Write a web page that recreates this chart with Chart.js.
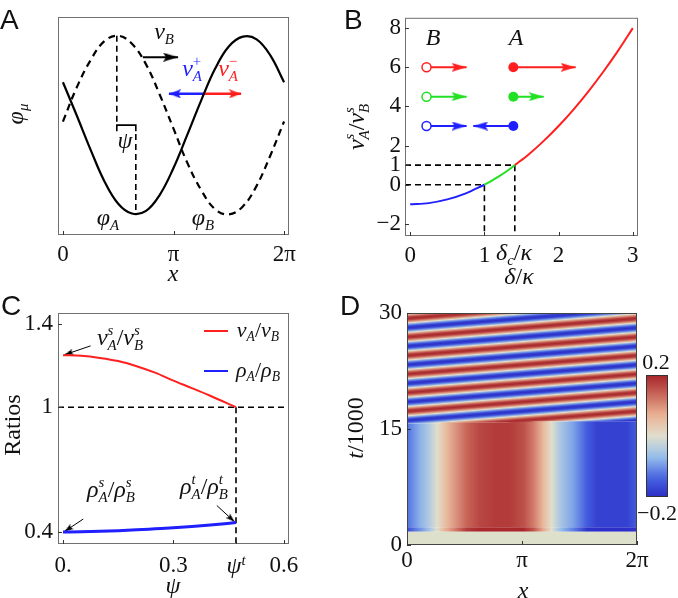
<!DOCTYPE html>
<html>
<head>
<meta charset="utf-8">
<script src="https://cdn.jsdelivr.net/npm/chart.js@4.4.1/dist/chart.umd.min.js"></script>
<style>
body{margin:0;background:#fff;width:678px;height:598px;position:relative;overflow:hidden;font-family:"Liberation Serif",serif;color:#111;}
canvas{position:absolute;}
.t{position:absolute;white-space:nowrap;font-size:24px;line-height:1;transform:translate(-50%,-50%);}
.rot{transform:translate(-50%,-50%) rotate(-90deg);}
.p{position:absolute;font-family:"Liberation Sans",sans-serif;font-size:28px;line-height:1;}
.sb{font-size:0.62em;vertical-align:-0.3em;}
.sp{font-size:0.62em;vertical-align:0.55em;}
.ss{display:inline-block;font-size:0.62em;line-height:1;vertical-align:-0.35em;text-align:left;}
.ss>*{display:block;}
.leg{position:absolute;height:2px;width:24px;}
#cbar{position:absolute;left:646px;top:375px;width:20px;height:120px;border:1px solid #333;}
</style>
</head>
<body>
<canvas id="cA" width="339" height="290" style="left:0;top:0"></canvas>
<canvas id="cB" width="338" height="290" style="left:340px;top:0"></canvas>
<canvas id="cC" width="339" height="308" style="left:0;top:290px"></canvas>
<canvas id="cD" width="338" height="308" style="left:340px;top:290px"></canvas>
<div id="cbar"></div>
<script>
const TWO_PI = 2 * Math.PI;
const SERIF = 'Liberation Serif';

// ---- panel A : profiles phi_A (solid) and phi_B (dashed)
const xGrid = [0, 0.39, 0.79, 1.18, 1.57, 1.96, 2.36, 2.75, 3.14, 3.53, 3.93, 4.32, 4.71, 5.11, 5.50, 5.89, 6.28];
const phiA = [0.48, 0.11, -0.28, -0.63, -0.88, -0.99, -0.96, -0.78, -0.48, -0.11, 0.28, 0.63, 0.88, 0.99, 0.96, 0.78, 0.48];
const phiB = [0.04, 0.42, 0.73, 0.94, 1.00, 0.91, 0.68, 0.34, -0.04, -0.42, -0.73, -0.94, -1.00, -0.91, -0.68, -0.34, 0.04];
const peakB = 1.53, troughA = 2.07;
const xTicksA = [0, Math.PI, TWO_PI];
const xLabelsA = ['0', 'π', '2π'];

// ---- panel B : v_A^s / v_B^s against delta/kappa
const deltaBlue = [0, 0.25, 0.5, 0.75, 1.0];
const vBlue = [-1, -0.94, -0.75, -0.44, 0];
const deltaGreen = [1.0, 1.1, 1.2, 1.3, 1.41];
const vGreen = [0, 0.21, 0.44, 0.69, 1.0];
const deltaRed = [1.41, 1.6, 1.8, 2.0, 2.2, 2.4, 2.6, 2.8, 3.0];
const vRed = [1.0, 1.56, 2.24, 3.0, 3.84, 4.76, 5.76, 6.84, 8.0];
const deltaC = 1.41;
const iconRows = [6, 4.5, 3];
const iconColors = ['#ff1f1f', '#22e022', '#1f1fff'];
const iconB = [0.22, 0.76];
const iconAStart = 1.39;
const iconAEnd = [2.23, 1.8, 0.85];
const xTicksB = [0, 1, 2, 3];
const yTicksB = [-2, 0, 1, 2, 4, 6, 8];
const yLabelsB = ['\u22122', '0', '1', '2', '4', '6', '8'];

// ---- panel C : ratios against psi
const psiGrid = [0, 0.05, 0.1, 0.15, 0.2, 0.25, 0.3, 0.35, 0.4, 0.47];
const vRatio = [1.25, 1.247, 1.237, 1.222, 1.197, 1.166, 1.128, 1.092, 1.055, 1.0];
const rhoRatio = [0.4, 0.401, 0.403, 0.406, 0.41, 0.415, 0.42, 0.426, 0.433, 0.445];
const psiT = 0.47;
const xTicksC = [0, 0.3, psiT, 0.6];
const xLabelsC = ['0.', '0.3', '', '0.6'];
const yTicksC = [0.4, 1, 1.4];

// ---- panel D : space-time map
const profX = [0, 0.35, 0.63, 0.82, 1.09, 1.64, 2.0, 2.4, 2.81, 3.18, 3.45, 3.72, 3.95, 4.18, 4.53, 4.92, 5.2, 6.0, 6.28];
const profV = [-0.13, -0.08, -0.04, 0.0, 0.06, 0.14, 0.17, 0.18, 0.18, 0.16, 0.12, 0.06, 0.0, -0.05, -0.09, -0.15, -0.18, -0.18, -0.15];
const frontX = [0, 1.57, 3.14, 4.71, 6.28];
const frontT = [15.7, 15.8, 15.9, 16.0, 16.0];
const redStripesT = [14.9, 17.3, 19.7, 22.1, 24.5, 26.9, 29.3];
const stripeRise = 2.4;
const stripeShade = [0.2, 0.17, 0.1, 0, -0.1, -0.17, -0.2];
const initT = 1.7, kickT = 2.3;
const yTicksD = [0, 15, 30];

Chart.defaults.font.family = SERIF;

// colour map of panel D
const cmapStops = [[-0.2, [44, 48, 200]], [-0.14, [70, 100, 225]], [-0.07, [150, 190, 235]], [0, [224, 222, 204]],
  [0.07, [234, 178, 148]], [0.14, [200, 100, 88]], [0.2, [168, 40, 44]]];
function cmap(v) {
  v = Math.max(-0.2, Math.min(0.2, v));
  for (let i = 1; i < cmapStops.length; i++) {
    const [v1, c1] = cmapStops[i], [v0, c0] = cmapStops[i - 1];
    if (v <= v1) {
      const f = (v - v0) / (v1 - v0);
      return 'rgb(' + c0.map((c, k) => Math.round(c + (c1[k] - c) * f)).join(',') + ')';
    }
  }
}

const pts = (xs, ys) => xs.map((x, i) => ({x, y: ys[i]}));

// arrow head drawn pointing up with its tip at the image centre
const headCache = {};
function head(color, len, wid) {
  const key = color + len + wid;
  if (headCache[key]) return headCache[key];
  const c = document.createElement('canvas');
  c.width = wid; c.height = 2 * len;
  const g = c.getContext('2d');
  g.fillStyle = color;
  g.beginPath();
  g.moveTo(wid / 2, len);
  g.lineTo(wid, 2 * len);
  g.lineTo(wid / 2, 2 * len - len * 0.2);
  g.lineTo(0, 2 * len);
  g.closePath();
  g.fill();
  return (headCache[key] = c);
}

Chart.register({
  id: 'frame',
  afterDatasetsDraw(chart, args, o) {
    const {ctx, chartArea: a, scales} = chart;
    ctx.save();
    ctx.strokeStyle = o.color || '#707070';
    ctx.lineWidth = 1;
    ctx.strokeRect(a.left + 0.5, a.top + 0.5, a.width - 1, a.height - 1);
    ctx.beginPath();
    scales.x.ticks.forEach(t => {
      const p = Math.round(scales.x.getPixelForValue(t.value)) + 0.5;
      ctx.moveTo(p, a.bottom); ctx.lineTo(p, a.bottom - 4);
    });
    scales.y.ticks.forEach(t => {
      const p = Math.round(scales.y.getPixelForValue(t.value)) + 0.5;
      ctx.moveTo(a.left, p); ctx.lineTo(a.left + 4, p);
    });
    ctx.strokeStyle = '#333';
    ctx.stroke();
    ctx.restore();
  }
});

function headAngle(c, x0, y0, x1, y1) {
  const s = c.chart.scales;
  const dx = s.x.getPixelForValue(x1) - s.x.getPixelForValue(x0);
  const dy = s.y.getPixelForValue(y1) - s.y.getPixelForValue(y0);
  return Math.atan2(dx, -dy) * 180 / Math.PI;
}

function arrow(x0, y0, x1, y1, color, w, len, wid) {
  return {
    data: [{x: x0, y: y0}, {x: x1, y: y1}],
    borderColor: color, borderWidth: w,
    pointStyle: [false, head(color, len, wid)], pointRadius: [0, len],
    pointRotation: c => headAngle(c, x0, y0, x1, y1),
    clip: false
  };
}

function guide(xy, dash) {
  return {
    data: xy.map(p => ({x: p[0], y: p[1]})),
    borderColor: '#000', borderWidth: 1.6, borderDash: dash === false ? [] : [6, 4]
  };
}

function opts(cfg) {
  const tickFont = () => ({family: SERIF, size: 23});
  return {
    responsive: false, animation: false, events: [],
    layout: {padding: cfg.pad},
    elements: {point: {radius: 0}, line: {tension: 0}},
    plugins: {legend: {display: false}, tooltip: {enabled: false}, frame: {color: cfg.frame}},
    scales: {
      x: {
        type: 'linear', min: cfg.x[0], max: cfg.x[1],
        grid: {display: false, drawTicks: false}, border: {display: false},
        afterFit: s => { s.height = cfg.xh; },
        afterBuildTicks: s => { s.ticks = cfg.xt.map(v => ({value: v})); },
        ticks: {autoSkip: false, maxRotation: 0, padding: cfg.xpad, color: '#111', font: tickFont(),
          callback: (v, i) => cfg.xl[i]}
      },
      y: {
        type: 'linear', min: cfg.y[0], max: cfg.y[1],
        grid: {display: false, drawTicks: false}, border: {display: false},
        afterFit: s => { s.width = cfg.yw; },
        afterBuildTicks: s => { s.ticks = cfg.yt.map(v => ({value: v})); },
        ticks: {display: cfg.yt.length > 0, autoSkip: false, padding: cfg.ypad, color: '#111', font: tickFont(),
          callback: (v, i) => cfg.yl[i]}
      }
    }
  };
}

const charts = [];

// ---------- A
charts.push(new Chart(document.getElementById('cA'), {
  type: 'line',
  data: {datasets: [
    {data: pts(xGrid, phiA), borderColor: '#000', borderWidth: 2.2, tension: 0.4},
    {data: pts(xGrid, phiB), borderColor: '#000', borderWidth: 2.2, borderDash: [7, 5], tension: 0.4},
    guide([[peakB, 1], [peakB, 0]]),
    guide([[peakB, -0.07], [peakB, 0], [troughA, 0], [troughA, -0.07]], false),
    guide([[troughA, -0.1], [troughA, -1]]),
    arrow(2.27, 0.76, 3.27, 0.76, '#000', 2, 15, 9),
    arrow(4.0, 0.35, 3.01, 0.35, '#1f1fff', 2.5, 12, 9),
    arrow(4.0, 0.35, 5.06, 0.35, '#ff1f1f', 2.5, 12, 9)
  ]},
  options: opts({pad: {left: 0, top: 4, right: 50, bottom: 0}, x: [-0.14, 6.42], y: [-1.23, 1.21],
    xh: 55, yw: 58, xpad: 6, ypad: 4, xt: xTicksA, xl: xLabelsA, yt: [], yl: []})
}));

// ---------- B
const bSets = [
  {data: pts(deltaBlue, vBlue), borderColor: '#1f1fff', borderWidth: 2, cubicInterpolationMode: 'monotone'},
  {data: pts(deltaGreen, vGreen), borderColor: '#22e022', borderWidth: 2, cubicInterpolationMode: 'monotone'},
  {data: pts(deltaRed, vRed), borderColor: '#ff1f1f', borderWidth: 2, cubicInterpolationMode: 'monotone'},
  guide([[-0.07, 1], [deltaC, 1], [deltaC, -2.62]]),
  guide([[-0.07, 0], [1, 0], [1, -2.62]])
];
iconRows.forEach((row, i) => {
  const col = iconColors[i];
  const right = iconAEnd[i] > iconAStart;
  bSets.push({
    data: [{x: iconB[0], y: row}, {x: iconB[1], y: row}], borderColor: col, borderWidth: 2,
    pointStyle: ['circle', head(col, 15, 9)], pointRadius: [4.5, 15], pointRotation: [0, 90],
    pointBackgroundColor: ['#fff', col], pointBorderColor: col, pointBorderWidth: [1.5, 0]
  });
  bSets.push({
    data: [{x: iconAStart, y: row}, {x: iconAEnd[i], y: row}], borderColor: col, borderWidth: 2,
    pointStyle: ['circle', head(col, 15, 9)], pointRadius: [5, 15], pointRotation: [0, right ? 90 : -90],
    pointBackgroundColor: col, pointBorderColor: col, pointBorderWidth: 0
  });
});
charts.push(new Chart(document.getElementById('cB'), {
  type: 'line',
  data: {datasets: bSets},
  options: opts({pad: {left: 0, top: 4, right: 40, bottom: 0}, x: [-0.07, 3.07], y: [-2.62, 8.53],
    xh: 54, yw: 65, xpad: 6, ypad: 4, xt: xTicksB, xl: ['0', '1', '2', '3'], yt: yTicksB, yl: yLabelsB})
}));

// ---------- C
charts.push(new Chart(document.getElementById('cC'), {
  type: 'line',
  data: {datasets: [
    {data: pts(psiGrid, vRatio), borderColor: '#ff1f1f', borderWidth: 2, cubicInterpolationMode: 'monotone'},
    {data: pts(psiGrid, rhoRatio), borderColor: '#1f1fff', borderWidth: 3, cubicInterpolationMode: 'monotone'},
    guide([[-0.0136, 1], [0.614, 1]]),
    guide([[psiT, 1], [psiT, 0.342]]),
    arrow(0.075, 1.295, 0.004, 1.252, '#000', 1, 9, 6),
    arrow(0.055, 0.462, 0.004, 0.402, '#000', 1, 9, 6),
    arrow(0.418, 0.527, 0.466, 0.449, '#000', 1, 9, 6)
  ]},
  options: opts({pad: {left: 0, top: 23, right: 50, bottom: 0}, x: [-0.0136, 0.614], y: [0.342, 1.453],
    xh: 54, yw: 58, xpad: 8, ypad: 5, xt: xTicksC, xl: xLabelsC, yt: yTicksC, yl: ['0.4', '1', '1.4']})
}));

// ---------- D
function profileFill(c, k) {
  const chart = c.chart;
  if (!chart.chartArea) return 'transparent';
  const X = chart.scales.x;
  const g = chart.ctx.createLinearGradient(X.getPixelForValue(0), 0, X.getPixelForValue(TWO_PI), 0);
  profX.forEach((x, i) => g.addColorStop(Math.min(1, x / TWO_PI), cmap(profV[i] * k)));
  return g;
}
function stripeFill(c) {
  const chart = c.chart;
  if (!chart.chartArea) return 'transparent';
  const X = chart.scales.x, Y = chart.scales.y;
  const t0 = redStripesT[0];
  const ox = X.getPixelForValue(0), oy = Y.getPixelForValue(t0);
  const w = X.getPixelForValue(TWO_PI) - ox, h = Y.getPixelForValue(t0 + stripeRise) - oy;
  const len = Math.hypot(w, h), nx = h / len, ny = -w / len;
  const s = redStripesT.map(t => (Y.getPixelForValue(t) - oy) * (-w / len));
  const gap = s[1] - s[0];
  const ext = [s[0] - gap, ...s, s[s.length - 1] + gap];
  const lo = ext[0], hi = ext[ext.length - 1];
  const g = chart.ctx.createLinearGradient(ox + nx * lo, oy + ny * lo, ox + nx * hi, oy + ny * hi);
  const shade = [...stripeShade, ...stripeShade.slice(0, -1).reverse()];
  for (let k = 0; k < ext.length - 1; k++) {
    for (let j = 0; j < shade.length; j++) {
      const p = ext[k] + (ext[k + 1] - ext[k]) * j / (shade.length - 1);
      g.addColorStop((p - lo) / (hi - lo), cmap(shade[j]));
    }
  }
  return g;
}
const flat = t => [{x: 0, y: t}, {x: TWO_PI, y: t}];
charts.push(new Chart(document.getElementById('cD'), {
  type: 'line',
  data: {datasets: [
    {data: flat(initT), borderWidth: 0, fill: 'start', backgroundColor: '#dde0cb'},
    {data: flat(kickT), borderWidth: 0, fill: {value: initT}, backgroundColor: c => profileFill(c, 1.3)},
    {data: pts(frontX, frontT), borderWidth: 0, tension: 0.4, fill: {value: kickT}, backgroundColor: c => profileFill(c, 1)},
    {data: pts(frontX, frontT), borderWidth: 0, tension: 0.4, fill: 'end', backgroundColor: stripeFill}
  ]},
  options: opts({pad: {left: 0, top: 23, right: 41, bottom: 0}, x: [0, TWO_PI], y: [0, 30], frame: '#444',
    xh: 53, yw: 67, xpad: 2, ypad: 5, xt: xTicksA, xl: xLabelsA, yt: yTicksD, yl: ['0', '15', '30']})
}));
if (document.fonts) document.fonts.ready.then(() => charts.forEach(ch => ch.update()));

// colour bar
const cbStops = [];
for (let v = -0.2; v <= 0.2001; v += 0.025) cbStops.push(cmap(v));
document.getElementById('cbar').style.background = 'linear-gradient(to top,' + cbStops.join(',') + ')';

// ---------- text
const ss = (a, b) => '<span class="ss"><i>' + a + '</i><i>' + b + '</i></span>';
const sb = a => '<span class="sb"><i>' + a + '</i></span>';
const texts = [
  [17, 114, '<i>φ</i>' + sb('μ'), 'rot'],
  [173, 273, '<i>x</i>'],
  [108, 219, '<i>φ</i>' + sb('A')],
  [203, 219, '<i>φ</i>' + sb('B')],
  [125, 140, '<i>ψ</i>'],
  [164, 33, '<i>v</i>' + sb('B')],
  [192, 69, '<i>v</i><span class="ss"><span>+</span><i>A</i></span>', '', '#1f1fff'],
  [228, 69, '<i>v</i><span class="ss"><span>\u2212</span><i>A</i></span>', '', '#ff1f1f'],

  [357, 127, '<i>v</i>' + ss('s', 'A') + '/<i>v</i>' + ss('s', 'B'), 'rot'],
  [519, 276, '<i>δ</i>/<i>κ</i>'],
  [514, 254, '<i>δ</i>' + sb('c') + '/<i>κ</i>'],
  [433, 37, '<i>B</i>'],
  [516, 37, '<i>A</i>'],

  [12, 425, 'Ratios', 'rot'],
  [173, 585, '<i>ψ</i>'],
  [236, 565, '<i>ψ</i><span class="sp"><i>t</i></span>'],
  [120, 338, '<i>v</i>' + ss('s', 'A') + '/<i>v</i>' + ss('s', 'B')],
  [111, 490, '<i>ρ</i>' + ss('s', 'A') + '/<i>ρ</i>' + ss('s', 'B')],
  [204, 487, '<i>ρ</i>' + ss('t', 'A') + '/<i>ρ</i>' + ss('t', 'B')],
  [258, 331, '<i>v</i>' + sb('A') + '/<i>v</i>' + sb('B'), 'small'],
  [258, 371, '<i>ρ</i>' + sb('A') + '/<i>ρ</i>' + sb('B'), 'small'],

  [355, 428, '<i>t</i>/1000', 'rot'],
  [523, 590, '<i>x</i>'],
  [656, 362, '0.2', 'small'],
  [657, 513, '\u22120.2', 'small']
];
texts.forEach(([x, y, html, cls, color]) => {
  const d = document.createElement('div');
  d.className = 't' + (cls === 'rot' ? ' rot' : '');
  if (cls === 'small') d.style.fontSize = '22px';
  d.style.left = x + 'px';
  d.style.top = y + 'px';
  if (color) d.style.color = color;
  d.innerHTML = html;
  document.body.appendChild(d);
});
[['A', 0, 6], ['B', 344, 6], ['C', 1, 292], ['D', 340, 292]].forEach(([s, x, y]) => {
  const d = document.createElement('div');
  d.className = 'p';
  d.style.left = x + 'px';
  d.style.top = y + 'px';
  d.textContent = s;
  document.body.appendChild(d);
});
[['#ff1f1f', 331], ['#1f1fff', 371]].forEach(([c, y]) => {
  const d = document.createElement('div');
  d.className = 'leg';
  d.style.cssText = 'left:204px;top:' + (y - 1) + 'px;background:' + c;
  document.body.appendChild(d);
});
</script>
</body>
</html>
